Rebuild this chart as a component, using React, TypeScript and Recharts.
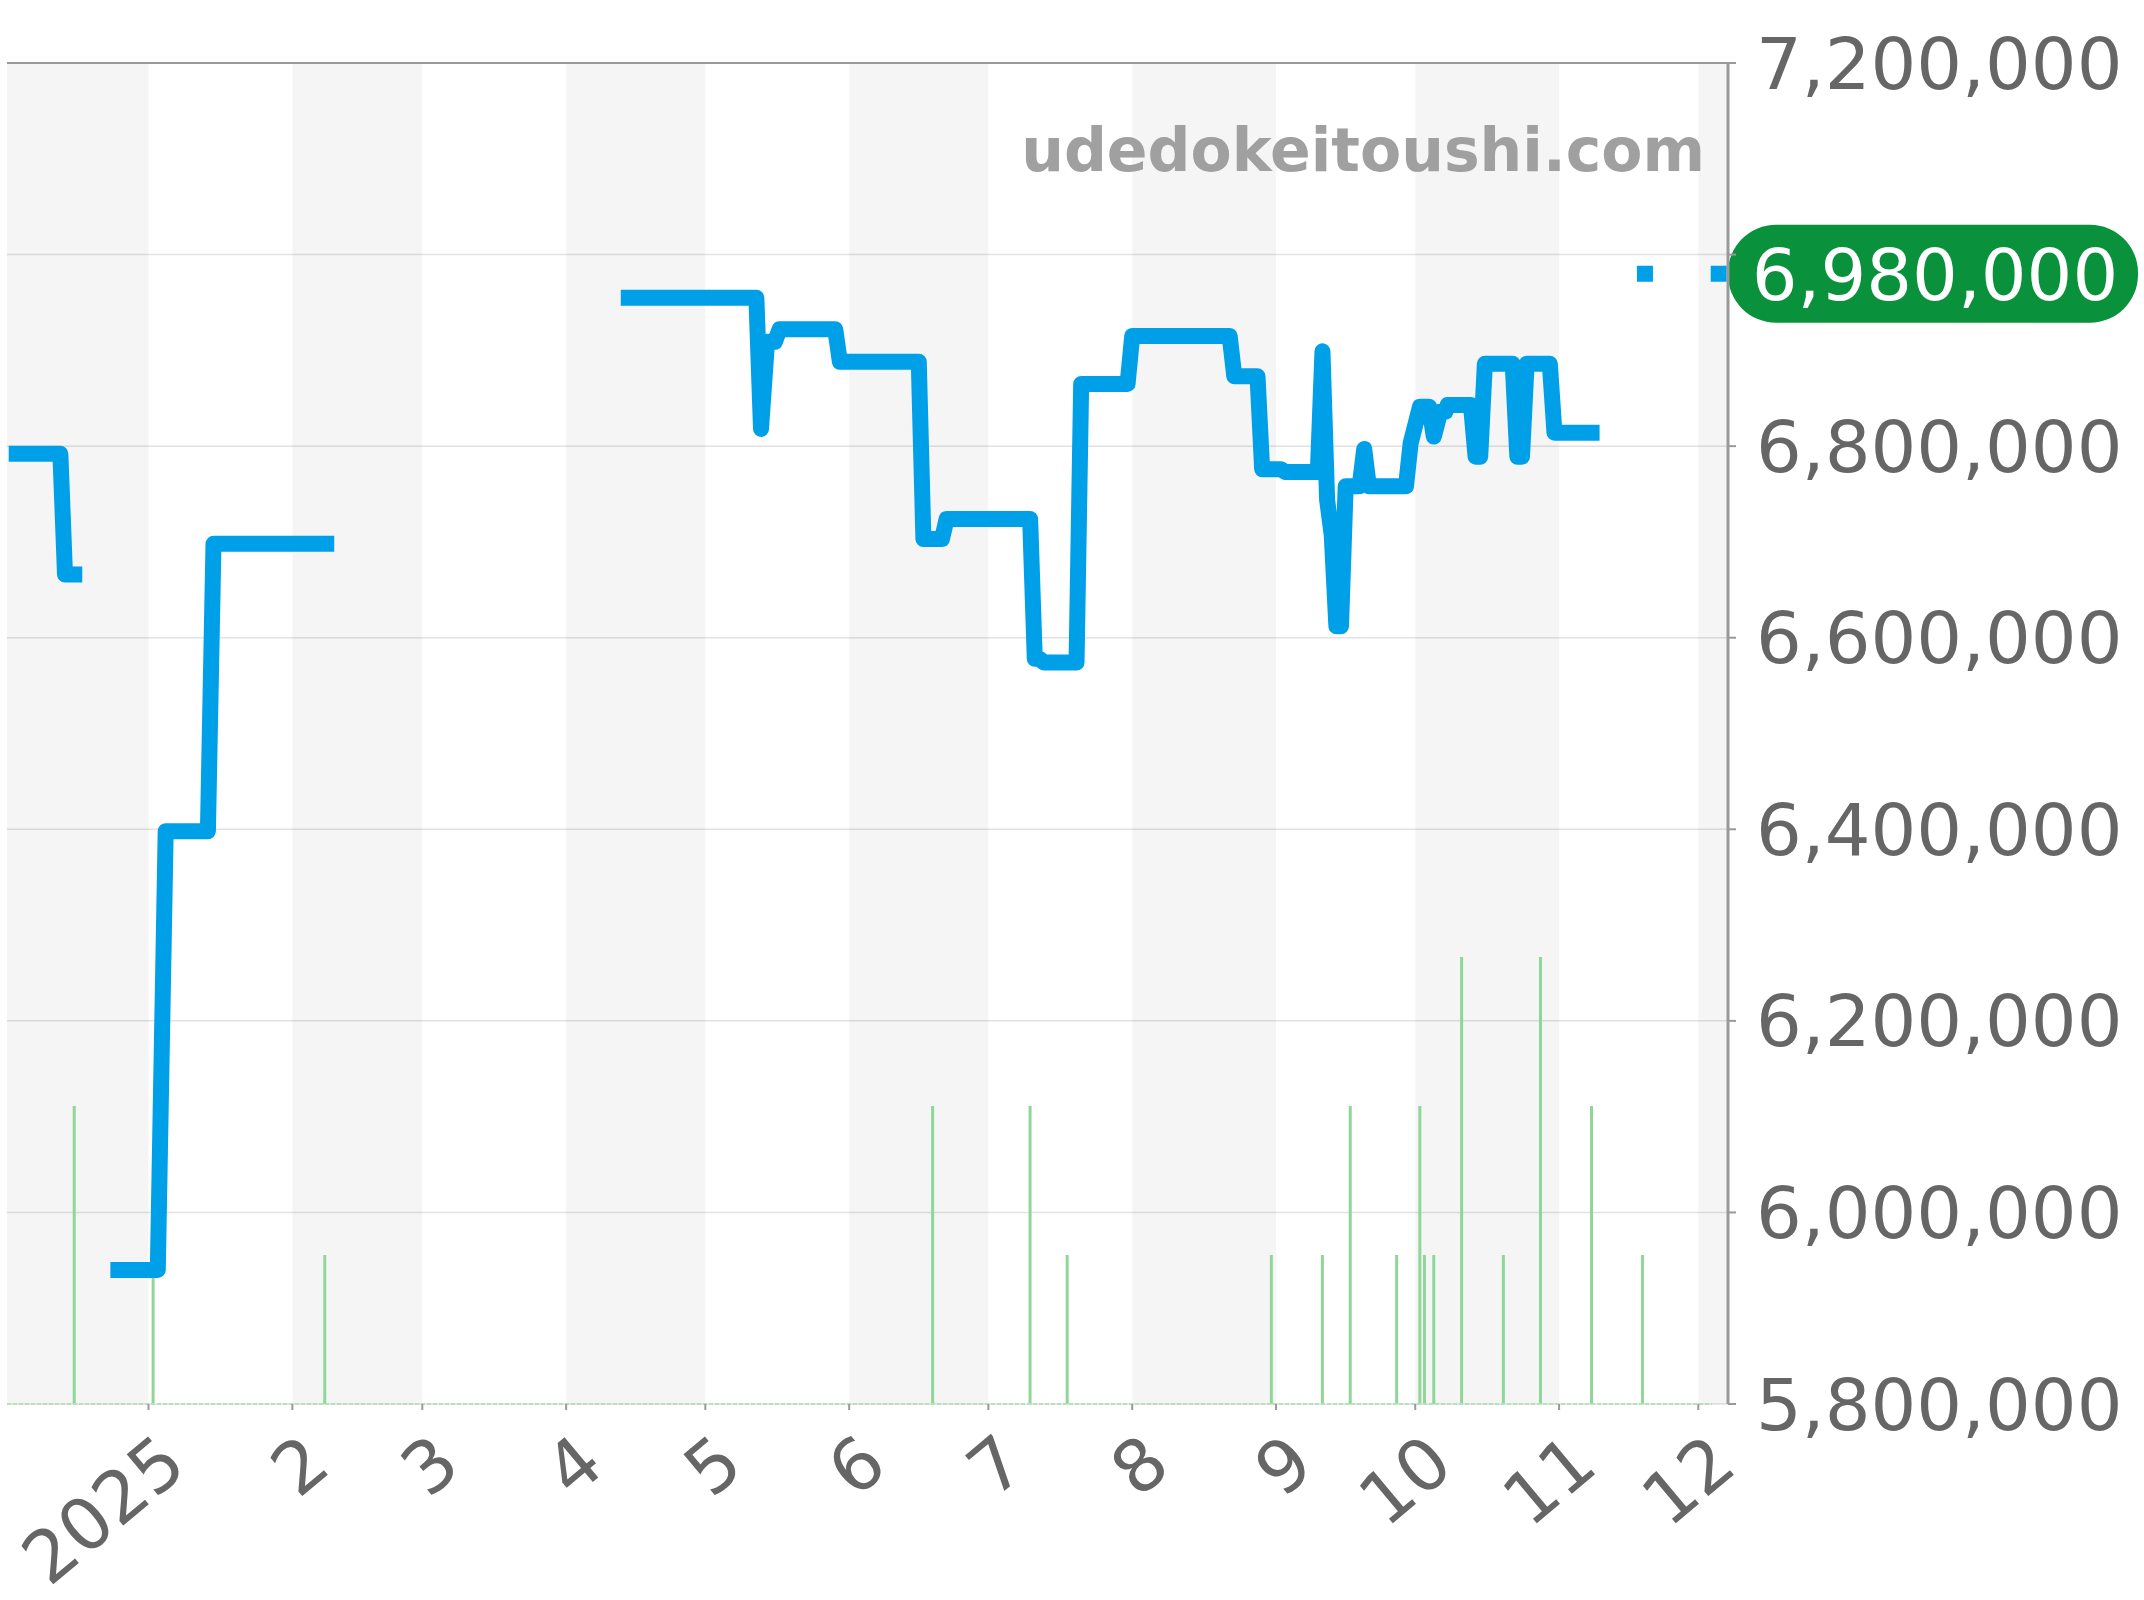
// Price history chart: daily price line over monthly bands, with trade counts as thin bars.
// x values are days counted from 2025-01-01.

import {
  Bar,
  CartesianGrid,
  ComposedChart,
  Line,
  ReferenceArea,
  ReferenceLine,
  XAxis,
  YAxis,
} from 'recharts'

const FONT = '"DejaVu Sans", sans-serif'
const TEXT_COLOR = '#666666'
const AXIS_COLOR = '#999999'
const LINE_COLOR = '#00a0e9'
const VOLUME_COLOR = '#90d698'

const priceDays = [
  -28.4, -19, -18, -16, -10,
  -6.5, 2, 3.7, 12.8, 14, 38.3, 70,
  103.5, 131, 132, 133.3, 135, 136, 148, 149, 166, 167, 171, 172, 190, 191, 192, 193, 200, 201,
  211, 212, 233, 234, 239, 240, 244, 245, 252, 253, 254, 255, 256, 257, 258, 261, 262, 263,
  271, 272, 274, 276, 277, 278.4, 279.5, 280, 285, 286, 287, 288, 294, 295, 296, 297, 302, 303, 311, 316,
  322.5, 330, 338.4,
]
const priceValues = [
  6792000, 6792000, 6666000, 6666000, null,
  5940000, 5940000, 6398000, 6398000, 6698000, 6698000, null,
  6955000, 6955000, 6818000, 6909000, 6909000, 6922000, 6922000, 6888000, 6888000, 6703000, 6703000, 6724000, 6724000, 6578000, 6578000, 6574000, 6574000, 6865000,
  6865000, 6915000, 6915000, 6873000, 6873000, 6776000, 6776000, 6773000, 6773000, 6899000, 6744000, 6707000, 6612000, 6612000, 6758000, 6758000, 6797000, 6758000,
  6758000, 6803000, 6841000, 6841000, 6810000, 6836000, 6836000, 6843000, 6843000, 6789000, 6789000, 6886000, 6886000, 6789000, 6789000, 6886000, 6886000, 6814000, 6814000, null,
  6980000, null, 6980000,
]

const volumeDays = [-16, 1, 38, 169, 190, 198, 242, 253, 259, 269, 274, 275, 277, 283, 292, 300, 311, 322]
const volumeValues = [2, 1, 1, 2, 2, 1, 1, 1, 2, 1, 2, 1, 1, 3, 1, 3, 2, 1]

const monthTicks = [0, 31, 59, 90, 120, 151, 181, 212, 243, 273, 304, 334]
const monthLabels = ['2025', '2', '3', '4', '5', '6', '7', '8', '9', '10', '11', '12']
const priceTicks = [5800000, 6000000, 6200000, 6400000, 6600000, 6800000, 7000000, 7200000]
const greyBandStarts = [-30.5, 31, 90, 151, 212, 273, 334]
const greyBandEnds = [0, 59, 120, 181, 243, 304, 340.4]

const LAST_PRICE = 6980000

const priceRows = priceDays.map((day, i) => ({ day, price: priceValues[i] }))
const volumeRows = volumeDays.map((day, i) => ({ day, volume: volumeValues[i] }))

function MonthTick({ x, y, payload }: { x?: number; y?: number; payload?: { value: number } }) {
  const px = (x ?? 0) + 41
  const py = (y ?? 0) + 58
  const label = monthLabels[monthTicks.indexOf(payload?.value ?? 0)]
  return (
    <text
      x={px}
      y={py}
      transform={`rotate(-40 ${px} ${py})`}
      textAnchor="end"
      fontSize={72}
      fontFamily={FONT}
      fill={TEXT_COLOR}
    >
      {label}
    </text>
  )
}

// Recharts squeezes the bar width on a numeric axis, so keep the bar's position and height but fix the width.
function VolumeBar({ x, y, width, height }: { x?: number; y?: number; width?: number; height?: number }) {
  const center = (x ?? 0) + (width ?? 0) / 2
  return <rect x={center - 1.5} y={y} width={3} height={height} fill={VOLUME_COLOR} />
}

function PriceTag({ viewBox }: { viewBox?: { x: number; y: number; width: number } }) {
  const left = (viewBox?.x ?? 0) + (viewBox?.width ?? 0)
  const mid = viewBox?.y ?? 0
  return (
    <g>
      <rect x={left} y={mid - 49} width={410} height={98} rx={48} fill="#0a913c" />
      <text
        x={left + 207}
        y={mid + 26}
        textAnchor="middle"
        fontSize={72}
        fontFamily={FONT}
        fill="#ffffff"
      >
        {LAST_PRICE.toLocaleString('en-US')}
      </text>
    </g>
  )
}

export default function App() {
  return (
    <div style={{ position: 'absolute', left: 0, top: 0, width: 2144, height: 1600, background: '#fff' }}>
      <ComposedChart
        width={2144}
        height={1600}
        data={volumeRows}
        margin={{ top: 63, right: 0, bottom: 0, left: 7 }}
      >
        <XAxis
          dataKey="day"
          type="number"
          scale="linear"
          domain={[-30.5, 340.4]}
          ticks={monthTicks}
          interval={0}
          height={196}
          axisLine={false}
          tickSize={6}
          tickLine={{ stroke: AXIS_COLOR, strokeWidth: 2 }}
          tick={<MonthTick />}
        />
        <YAxis
          yAxisId="price"
          orientation="right"
          type="number"
          domain={[5800000, 7200000]}
          ticks={priceTicks}
          interval={0}
          width={416}
          axisLine={{ stroke: AXIS_COLOR, strokeWidth: 3 }}
          tickSize={8}
          tickMargin={20}
          tickLine={{ stroke: AXIS_COLOR, strokeWidth: 2 }}
          tick={{ fontSize: 72, fontFamily: FONT, fill: TEXT_COLOR }}
          // the 7,000,000 label sits under the current price tag
          tickFormatter={(v: number) => (v === 7000000 ? '' : v.toLocaleString('en-US'))}
        />
        <YAxis yAxisId="volume" type="number" domain={[0, 9]} hide />

        {greyBandStarts.map((start, i) => (
          <ReferenceArea
            key={start}
            yAxisId="price"
            x1={start}
            x2={greyBandEnds[i]}
            fill="#000000"
            fillOpacity={0.04}
            stroke="none"
          />
        ))}
        <CartesianGrid yAxisId="price" vertical={false} stroke="#e2e2e2" strokeWidth={1.5} />
        <ReferenceLine yAxisId="price" y={7200000} stroke={AXIS_COLOR} strokeWidth={2} />
        <ReferenceLine
          yAxisId="volume"
          stroke="#b4e3ba"
          strokeWidth={2}
          strokeDasharray="4 2"
          segment={[{ x: -30.5, y: 0 }, { x: 337, y: 0 }]}
        />

        <Bar
          yAxisId="volume"
          dataKey="volume"
          barSize={3}
          fill={VOLUME_COLOR}
          shape={<VolumeBar />}
          isAnimationActive={false}
        />
        <Line
          yAxisId="price"
          data={priceRows}
          dataKey="price"
          type="linear"
          stroke={LINE_COLOR}
          strokeWidth={16}
          strokeLinecap="square"
          strokeLinejoin="round"
          dot={false}
          activeDot={false}
          isAnimationActive={false}
        />

        <ReferenceLine yAxisId="price" y={LAST_PRICE} stroke="none" label={<PriceTag />} />
      </ComposedChart>
      <svg width={2144} height={300} style={{ position: 'absolute', left: 0, top: 0, pointerEvents: 'none' }}>
        <text
          x={1705}
          y={171}
          textAnchor="end"
          fontSize={60}
          fontWeight="bold"
          fontFamily={FONT}
          fill="#a0a0a0"
        >
          udedokeitoushi.com
        </text>
      </svg>
    </div>
  )
}
